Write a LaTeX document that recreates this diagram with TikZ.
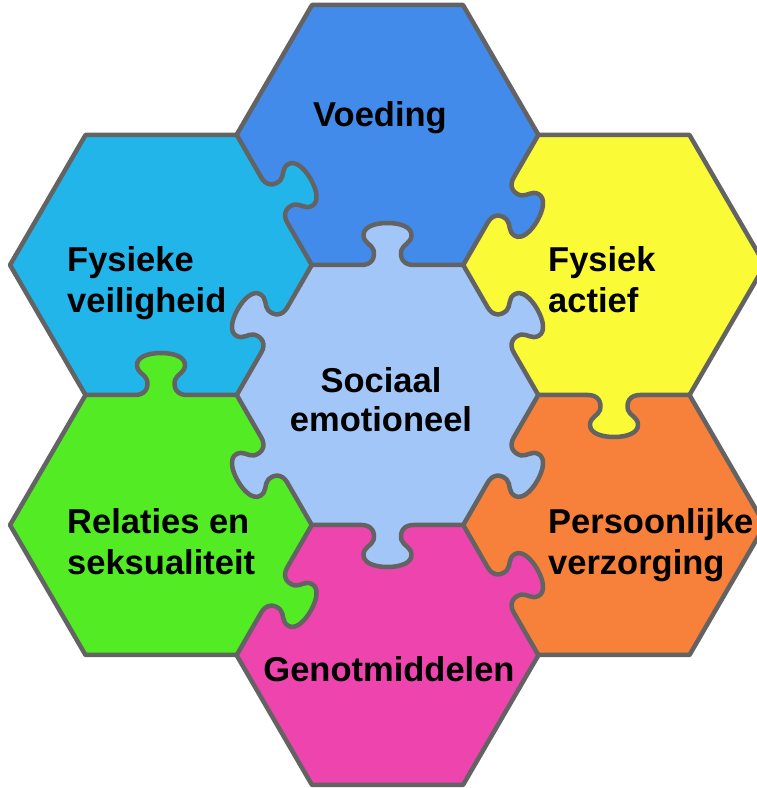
\documentclass[tikz,border=0pt]{standalone}
\usepackage{fontspec}
\setmainfont{Liberation Sans}
\usetikzlibrary{calc}

\definecolor{cvoed}{HTML}{428BEA}
\definecolor{ccyan}{HTML}{22B5EA}
\definecolor{cyellow}{HTML}{FAFA36}
\definecolor{corange}{HTML}{F7803A}
\definecolor{cpink}{HTML}{EE44AE}
\definecolor{cgreen}{HTML}{52EB24}
\definecolor{clight}{HTML}{A2C6F7}
\definecolor{cborder}{HTML}{636363}

\newcommand{\hexfill}[2]{\fill[#2] ($(#1)+(151,0)$) -- ++(-75.5,130) -- ++(-151,0) -- ++(-75.5,-130) -- ++(75.5,-130) -- ++(151,0) -- cycle;}

% one shared edge: knob fill in the colour of the tile it belongs to, then the outline
\newcommand{\knobedge}[5]{\begin{scope}[shift={(#1,#2)},rotate=#3]
\fill[#5] (-26,-3) -- (-26,0) .. controls (-16,0) and (-12,7) .. (-14,15)
 .. controls (-16,21) and (-24,22) .. (-24,30)
 .. controls (-24,38) and (-13,42) .. (0,42)
 .. controls (13,42) and (24,38) .. (24,30)
 .. controls (24,22) and (16,21) .. (14,15)
 .. controls (12,7) and (16,0) .. (26,0) -- (26,-3) -- cycle;
\draw[border] (-#4,0) -- (-26,0) .. controls (-16,0) and (-12,7) .. (-14,15)
 .. controls (-16,21) and (-24,22) .. (-24,30)
 .. controls (-24,38) and (-13,42) .. (0,42)
 .. controls (13,42) and (24,38) .. (24,30)
 .. controls (24,22) and (16,21) .. (14,15)
 .. controls (12,7) and (16,0) .. (26,0) -- (#4,0);
\end{scope}}

\begin{document}
\begin{tikzpicture}[x=1pt,y=1pt,
  border/.style={draw=cborder, line width=4.5pt, line cap=round, line join=round},
  lbl/.style={font=\fontsize{34.5}{41}\selectfont\bfseries, inner sep=0pt, text=black}]
\clip (0,0) rectangle (757,788);

\coordinate (C) at (387.5,393);
\coordinate (V) at (387.5,653);
\coordinate (FA) at (614,523);
\coordinate (PV) at (614,263);
\coordinate (G) at (387.5,133);
\coordinate (R) at (161,263);
\coordinate (FV) at (161,523);

% hexagon fills
\hexfill{C}{clight}
\hexfill{V}{cvoed}
\hexfill{FA}{cyellow}
\hexfill{PV}{corange}
\hexfill{G}{cpink}
\hexfill{R}{cgreen}
\hexfill{FV}{ccyan}

% shared edges with knobs
\knobedge{387.5}{523}{0}{75.5}{clight}
\knobedge{500.75}{458}{-60}{75.15}{clight}
\knobedge{500.75}{328}{-120}{75.15}{clight}
\knobedge{387.5}{263}{180}{75.5}{clight}
\knobedge{274.25}{328}{120}{75.15}{clight}
\knobedge{274.25}{458}{60}{75.15}{clight}
\knobedge{500.75}{588}{-120}{75.15}{cvoed}
\knobedge{614}{393}{180}{75.5}{cyellow}
\knobedge{500.75}{198}{-60}{75.15}{cpink}
\knobedge{274.25}{198}{-120}{75.15}{cgreen}
\knobedge{161}{393}{0}{75.5}{cgreen}
\knobedge{274.25}{588}{-60}{75.15}{ccyan}

% outer edges
\begin{scope}[shift={(V)}]\draw[border] (151,0) -- (75.5,130) -- (-75.5,130) -- (-151,0);\end{scope}
\begin{scope}[shift={(FA)}]\draw[border] (75.5,-130) -- (151,0) -- (75.5,130) -- (-75.5,130);\end{scope}
\begin{scope}[shift={(PV)}]\draw[border] (-75.5,-130) -- (75.5,-130) -- (151,0) -- (75.5,130);\end{scope}
\begin{scope}[shift={(G)}]\draw[border] (-151,0) -- (-75.5,-130) -- (75.5,-130) -- (151,0);\end{scope}
\begin{scope}[shift={(R)}]\draw[border] (-75.5,130) -- (-151,0) -- (-75.5,-130) -- (75.5,-130);\end{scope}
\begin{scope}[shift={(FV)}]\draw[border] (75.5,130) -- (-75.5,130) -- (-151,0) -- (-75.5,-130);\end{scope}

% labels (base anchor = baseline of the last line)
\node[lbl, anchor=base] (tV) at (380,661) {Voeding};
\node[lbl, anchor=base west, align=left] (tFV) at (67,475) {Fysieke\\veiligheid};
\node[lbl, anchor=base west, align=left] (tFA) at (548,475) {Fysiek\\actief};
\node[lbl, anchor=base, align=center, font=\fontsize{34.5}{39}\selectfont\bfseries] (tC) at (381,356) {Sociaal\\emotioneel};
\node[lbl, anchor=base west, align=left] (tR) at (67,213) {Relaties en\\seksualiteit};
\node[lbl, anchor=base west, align=left] (tPV) at (548,213) {Persoonlijke\\verzorging};
\node[lbl, anchor=base] (tG) at (389,106) {Genotmiddelen};
\end{tikzpicture}
\end{document}
